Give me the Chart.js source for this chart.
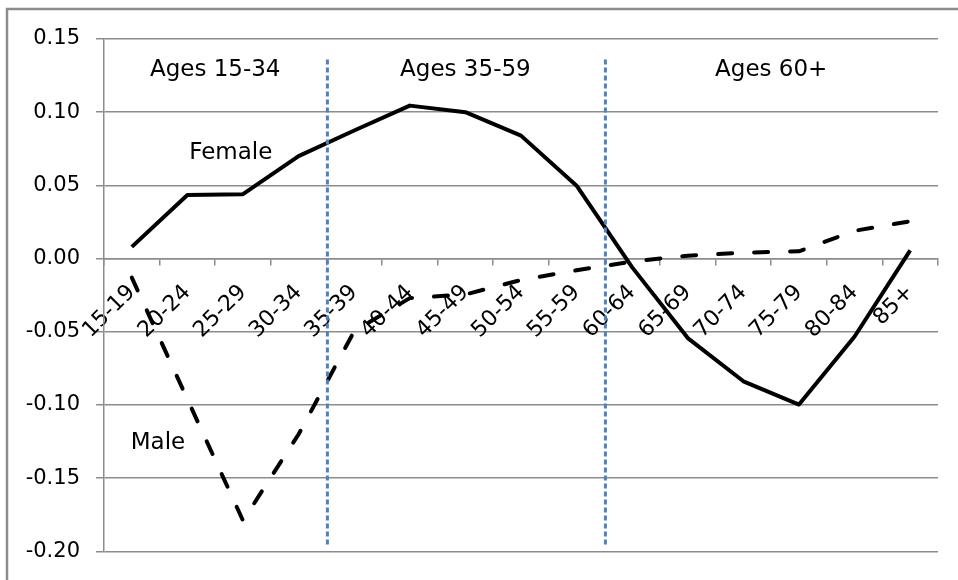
<!DOCTYPE html>
<html>
<head>
<meta charset="utf-8">
<title>Female / Male by age group</title>
<script src="https://cdn.jsdelivr.net/npm/chart.js@4.4.0/dist/chart.umd.min.js"></script>
<style>
  body { margin: 0; background: #fff; }
  canvas { display: block; }
</style>
</head>
<body>
<canvas id="chart" width="958" height="580"></canvas>
<script>
/* data */
const ageGroups = ["15-19", "20-24", "25-29", "30-34", "35-39", "40-44", "45-49",
  "50-54", "55-59", "60-64", "65-69", "70-74", "75-79", "80-84", "85+"];
const femaleValues = [0.008, 0.0435, 0.044, 0.070, 0.0875, 0.1045, 0.100,
  0.084, 0.0498, -0.006, -0.0543, -0.0838, -0.0997, -0.0532, 0.0056];
const maleValues = [-0.013, -0.096, -0.179, -0.120, -0.0496, -0.027, -0.0245,
  -0.0146, -0.008, -0.002, 0.002, 0.004, 0.005, 0.019, 0.0255];
const periodNames = ["Ages 15-34", "Ages 35-59", "Ages 60+"];
const periodBreaks = [3.5, 8.5];
const seriesNames = ["Female", "Male"];

const FONT = "'DejaVu Sans', sans-serif";

// dashed dividers, text labels and the outer frame
const decorations = {
  id: "decorations",
  beforeDraw(chart) {
    const ctx = chart.ctx;
    ctx.save();
    ctx.strokeStyle = "#8c8c8c";
    ctx.lineWidth = 2.5;
    ctx.beginPath();
    ctx.moveTo(7, 580);
    ctx.lineTo(7, 9);
    ctx.lineTo(958, 9);
    ctx.stroke();
    ctx.restore();
  },
  afterDatasetsDraw(chart) {
    const { ctx, scales: { x, y } } = chart;
    ctx.save();
    ctx.strokeStyle = "#4f81bd";
    ctx.lineWidth = 3;
    ctx.setLineDash([5, 3]);
    periodBreaks.forEach((b) => {
      const px = x.getPixelForValue(b) + 1;
      ctx.beginPath();
      ctx.moveTo(px, y.getPixelForValue(0.136));
      ctx.lineTo(px, y.getPixelForValue(-0.197));
      ctx.stroke();
    });
    ctx.setLineDash([]);

    ctx.fillStyle = "#000";
    ctx.font = "23px " + FONT;
    ctx.textAlign = "center";
    ctx.textBaseline = "alphabetic";
    const periodPos = [1.5, 6, 11.5];
    periodNames.forEach((t, i) => {
      ctx.fillText(t, x.getPixelForValue(periodPos[i]), y.getPixelForValue(0.1244));
    });
    ctx.fillText(seriesNames[0], x.getPixelForValue(1.78), y.getPixelForValue(0.068));
    ctx.fillText(seriesNames[1], x.getPixelForValue(0.47), y.getPixelForValue(-0.1298));
    ctx.restore();
  },
};

new Chart(document.getElementById("chart"), {
  type: "line",
  data: {
    labels: ageGroups,
    datasets: [
      {
        label: seriesNames[0],
        data: femaleValues,
        borderColor: "#000",
        borderWidth: 4,
        borderJoinStyle: "round",
        pointRadius: 0,
        tension: 0,
      },
      {
        label: seriesNames[1],
        data: maleValues,
        borderColor: "#000",
        borderWidth: 4,
        borderDash: [14, 22],
        borderCapStyle: "round",
        pointRadius: 0,
        tension: 0,
      },
    ],
  },
  options: {
    responsive: false,
    animation: false,
    devicePixelRatio: 1,
    layout: { padding: { left: 0, top: 39, right: 20, bottom: 26 } },
    plugins: {
      legend: { display: false },
      tooltip: { enabled: false },
    },
    scales: {
      x: {
        position: { y: 0 },
        offset: true,
        grid: {
          display: true,
          offset: true,
          drawOnChartArea: false,
          drawTicks: true,
          tickLength: 6,
          color: "#8c8c8c",
          lineWidth: 1.5,
        },
        border: { display: true, color: "#8c8c8c", width: 1.5 },
        ticks: {
          autoSkip: false,
          minRotation: 45,
          maxRotation: 45,
          padding: 15,
          color: "#000",
          font: { family: FONT, size: 22 },
        },
      },
      y: {
        min: -0.2,
        max: 0.15,
        afterFit: (scale) => { scale.width = 104; },
        grid: {
          color: "#8c8c8c",
          lineWidth: 1.5,
          tickLength: 8,
        },
        border: { display: true, color: "#8c8c8c", width: 1.5 },
        ticks: {
          stepSize: 0.05,
          padding: 16,
          color: "#000",
          font: { family: FONT, size: 21 },
          callback: (v) => (Math.abs(v) < 1e-9 ? 0 : v).toFixed(2),
        },
      },
    },
  },
  plugins: [decorations],
});
</script>
</body>
</html>
